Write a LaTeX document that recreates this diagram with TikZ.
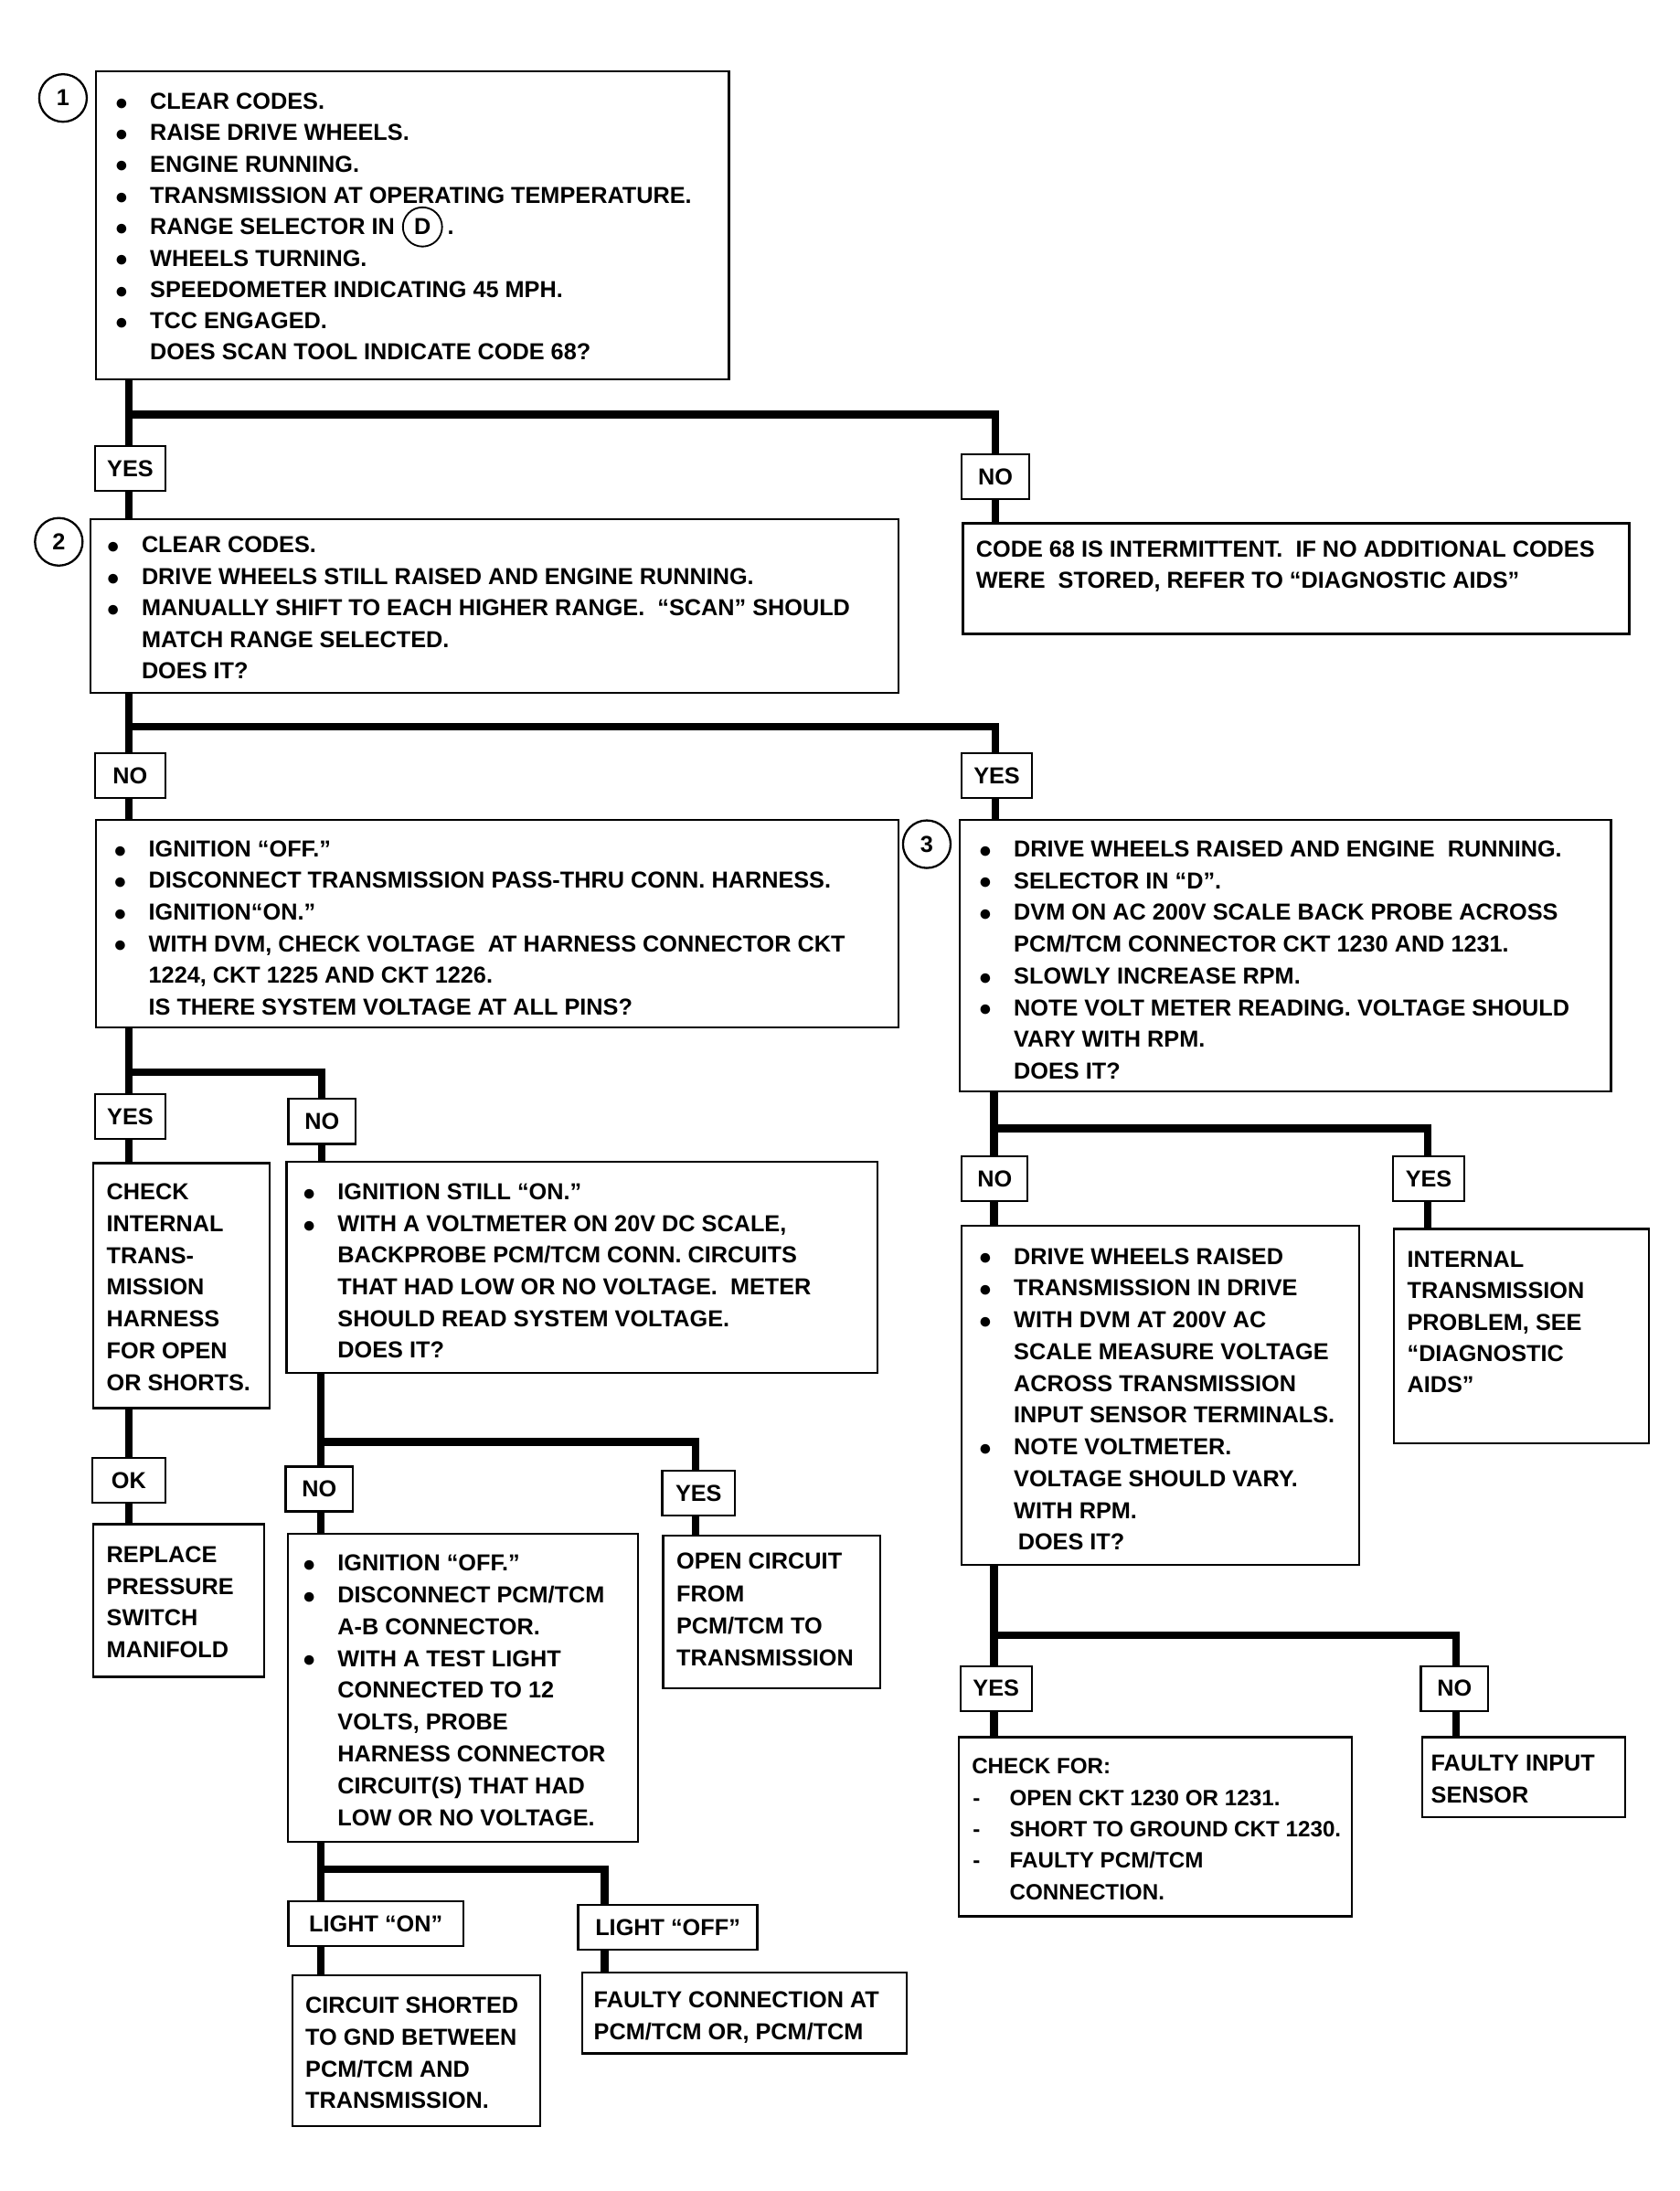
\documentclass[tikz,border=0pt]{standalone}
\usepackage{fontspec}
\setmainfont{Liberation Sans}
\newcommand\bul{\llap{\raisebox{-0.5pt}{\fontsize{16}{16}\selectfont ●}\hspace{15.5pt}}}
\newcommand\dsh{\llap{-\hspace{21pt}}}
\newcommand\putlines[5]{\foreach \ltext [count=\i from 0] in {#5} {\node[txt] (#1-\i) at (#2,{#3+#4*\i}) {\ltext};}}
\begin{document}
\begin{tikzpicture}[x=1pt,y=-1pt,
 box/.style={draw,line width=1.5pt,inner sep=0pt,anchor=north west},
 lab/.style={draw,line width=1.5pt,inner sep=0pt,minimum height=32pt,font=\fontsize{16.5}{20}\selectfont\bfseries},
 txt/.style={inner sep=0pt,anchor=base west,font=\fontsize{16.5}{20}\selectfont\bfseries},
 conn/.style={line width=5.5pt},
 num/.style={draw,circle,line width=1.5pt,minimum size=34pt,inner sep=0pt,font=\fontsize{16.5}{20}\selectfont\bfseries}]
\fill[white] (0,0) rectangle (1200,1565);
\useasboundingbox (0,0) rectangle (1200,1565);
% boxes
\node[box,minimum width=452pt,minimum height=220pt] (b1) at (68,50) {};
\node[box,minimum width=577pt,minimum height=124pt] (b2) at (64,370) {};
\node[box,minimum width=476pt,minimum height=79pt] (bn) at (687,373) {};
\node[box,minimum width=573pt,minimum height=148pt] (b4) at (68,585) {};
\node[box,minimum width=465pt,minimum height=194pt] (b3) at (685,585) {};
\node[box,minimum width=126pt,minimum height=175pt] (bck) at (66,830) {};
\node[box,minimum width=422pt,minimum height=151pt] (b5) at (204,829) {};
\node[box,minimum width=122pt,minimum height=109pt] (brp) at (66,1088) {};
\node[box,minimum width=250pt,minimum height=220pt] (b6) at (205,1095) {};
\node[box,minimum width=155pt,minimum height=109pt] (bop) at (473,1096) {};
\node[box,minimum width=177pt,minimum height=108pt] (bci) at (208,1410) {};
\node[box,minimum width=232pt,minimum height=58pt] (bfc) at (415,1408) {};
\node[box,minimum width=284pt,minimum height=242pt] (b7) at (686,875) {};
\node[box,minimum width=182pt,minimum height=153pt] (bin) at (995,877) {};
\node[box,minimum width=281pt,minimum height=128pt] (bcf) at (684,1240) {};
\node[box,minimum width=145pt,minimum height=57pt] (bfi) at (1015,1240) {};
% step numbers
\node[num] (c1) at (45,70) {1};
\node[num] (c2) at (42,387) {2};
\node[num] (c3) at (662,603) {3};
% labels
\node[lab,minimum width=50pt] (y1) at (93,334.5) {YES};
\node[lab,minimum width=48pt] (n1) at (711,340.5) {NO};
\node[lab,minimum width=50pt] (n2) at (93,554) {NO};
\node[lab,minimum width=50pt] (y2) at (712,554) {YES};
\node[lab,minimum width=50pt] (y3) at (93,797.5) {YES};
\node[lab,minimum width=48pt] (n3) at (230,801) {NO};
\node[lab,minimum width=52pt] (ok) at (92,1057.5) {OK};
\node[lab,minimum width=48pt] (n4) at (228,1063.5) {NO};
\node[lab,minimum width=52pt] (y4) at (499,1066.5) {YES};
\node[lab,minimum width=125pt] (lon) at (268.5,1374) {LIGHT “ON”};
\node[lab,minimum width=128pt] (loff) at (477,1376.5) {LIGHT “OFF”};
\node[lab,minimum width=47pt] (n5) at (710.5,842) {NO};
\node[lab,minimum width=51pt] (y5) at (1020.5,842) {YES};
\node[lab,minimum width=51pt] (y6) at (711.5,1206) {YES};
\node[lab,minimum width=48pt] (n6) at (1039,1206) {NO};
% texts
\putlines{t1}{107}{78}{22.4}{{\bul CLEAR CODES.},{\bul RAISE DRIVE WHEELS.},{\bul ENGINE RUNNING.},{\bul TRANSMISSION AT OPERATING TEMPERATURE.},{\bul RANGE SELECTOR IN},{\bul WHEELS TURNING.},{\bul SPEEDOMETER INDICATING 45 MPH.},{\bul TCC ENGAGED.},{DOES SCAN TOOL INDICATE CODE 68?}}
\node[draw,circle,line width=1.2pt,inner sep=0pt,minimum size=28pt,anchor=west,font=\fontsize{16.5}{20}\selectfont\bfseries] (dcirc) at ([xshift=5pt]t1-4.east) {D};
\node[txt] (dot) at ([xshift=3pt]dcirc.east |- t1-4.base) {.};
\putlines{t2}{101}{395}{22.5}{{\bul CLEAR CODES.},{\bul DRIVE WHEELS STILL RAISED AND ENGINE RUNNING.},{\bul MANUALLY SHIFT TO EACH HIGHER RANGE.\ \ “SCAN” SHOULD},{MATCH RANGE SELECTED.},{DOES IT?}}
\putlines{tn}{697}{398}{22}{{CODE 68 IS INTERMITTENT.\ \ IF NO ADDITIONAL CODES},{WERE\ \ STORED, REFER TO “DIAGNOSTIC AIDS”}}
\putlines{t4}{106}{612}{22.6}{{\bul IGNITION “OFF.”},{\bul DISCONNECT TRANSMISSION PASS-THRU CONN. HARNESS.},{\bul IGNITION“ON.”},{\bul WITH DVM, CHECK VOLTAGE\ \ AT HARNESS CONNECTOR CKT},{1224, CKT 1225 AND CKT 1226.},{IS THERE SYSTEM VOLTAGE AT ALL PINS?}}
\putlines{t3}{724}{612}{22.7}{{\bul DRIVE WHEELS RAISED AND ENGINE\ \ RUNNING.},{\bul SELECTOR IN “D”.},{\bul DVM ON AC 200V SCALE BACK PROBE ACROSS},{PCM/TCM CONNECTOR CKT 1230 AND 1231.},{\bul SLOWLY INCREASE RPM.},{\bul NOTE VOLT METER READING. VOLTAGE SHOULD},{VARY WITH RPM.},{DOES IT?}}
\putlines{tck}{76}{857}{22.7}{{CHECK},{INTERNAL},{TRANS-},{MISSION},{HARNESS},{FOR OPEN},{OR SHORTS.}}
\putlines{t5}{241}{857}{22.6}{{\bul IGNITION STILL “ON.”},{\bul WITH A VOLTMETER ON 20V DC SCALE,},{BACKPROBE PCM/TCM CONN. CIRCUITS},{THAT HAD LOW OR NO VOLTAGE.\ \ METER},{SHOULD READ SYSTEM VOLTAGE.},{DOES IT?}}
\putlines{trp}{76}{1116}{22.7}{{REPLACE},{PRESSURE},{SWITCH},{MANIFOLD}}
\putlines{t6}{241}{1122}{22.75}{{\bul IGNITION “OFF.”},{\bul DISCONNECT PCM/TCM},{A-B CONNECTOR.},{\bul WITH A TEST LIGHT},{CONNECTED TO 12},{VOLTS, PROBE},{HARNESS CONNECTOR},{CIRCUIT(S) THAT HAD},{LOW OR NO VOLTAGE.}}
\putlines{top}{483}{1121}{23}{{OPEN CIRCUIT},{FROM},{PCM/TCM TO},{TRANSMISSION}}
\putlines{tci}{218}{1438}{22.7}{{CIRCUIT SHORTED},{TO GND BETWEEN},{PCM/TCM AND},{TRANSMISSION.}}
\putlines{tfc}{424}{1434}{23}{{FAULTY CONNECTION AT},{PCM/TCM OR, PCM/TCM}}
\putlines{t7}{724}{903}{22.7}{{\bul DRIVE WHEELS RAISED},{\bul TRANSMISSION IN DRIVE},{\bul WITH DVM AT 200V AC},{SCALE MEASURE VOLTAGE},{ACROSS TRANSMISSION},{INPUT SENSOR TERMINALS.},{\bul NOTE VOLTMETER.},{VOLTAGE SHOULD VARY.},{WITH RPM.},{\hspace*{3pt}DOES IT?}}
\putlines{tin}{1005}{905}{22.5}{{INTERNAL},{TRANSMISSION},{PROBLEM, SEE},{“DIAGNOSTIC},{AIDS”}}
\begin{scope}[txt/.append style={font=\fontsize{15.8}{20}\selectfont\bfseries}]
\putlines{tcf}{721}{1267}{22.5}{{\hspace*{-27pt}CHECK FOR:},{\dsh OPEN CKT 1230 OR 1231.},{\dsh SHORT TO GROUND CKT 1230.},{\dsh FAULTY PCM/TCM},{CONNECTION.}}
\end{scope}
\putlines{tfi}{1022}{1265}{23}{{FAULTY INPUT},{SENSOR}}
% junctions
\coordinate (j1) at (92,296); \coordinate (j1r) at (711,296);
\coordinate (j2) at (92,519); \coordinate (j2r) at (711,519);
\coordinate (j3) at (92,766); \coordinate (j3r) at (230,766);
\coordinate (j4) at (229,1030); \coordinate (j4r) at (497,1030);
\coordinate (j5) at (229,1335); \coordinate (j5r) at (432,1335);
\coordinate (j6) at (710,806); \coordinate (j6r) at (1020,806);
\coordinate (j7) at (710,1168); \coordinate (j7r) at (1040,1168);
% connectors
\draw[conn] (b1.south -| j1) -- (y1.north -| j1);
\draw[conn] (j1) -- (j1r) -- (n1.north -| j1r);
\draw[conn] (y1.south -| j1) -- (b2.north -| j1);
\draw[conn] (n1.south -| j1r) -- (bn.north -| j1r);
\draw[conn] (b2.south -| j2) -- (n2.north -| j2);
\draw[conn] (j2) -- (j2r) -- (y2.north -| j2r);
\draw[conn] (n2.south -| j2) -- (b4.north -| j2);
\draw[conn] (y2.south -| j2r) -- (b3.north -| j2r);
\draw[conn] (b4.south -| j3) -- (y3.north -| j3);
\draw[conn] (j3) -- (j3r) -- (n3.north -| j3r);
\draw[conn] (y3.south -| j3) -- (bck.north -| j3);
\draw[conn] (n3.south -| j3r) -- (b5.north -| j3r);
\draw[conn] (bck.south -| j3) -- (ok.north -| j3);
\draw[conn] (ok.south -| j3) -- (brp.north -| j3);
\draw[conn] (b5.south -| j4) -- (n4.north -| j4);
\draw[conn] (j4) -- (j4r) -- (y4.north -| j4r);
\draw[conn] (n4.south -| j4) -- (b6.north -| j4);
\draw[conn] (y4.south -| j4r) -- (bop.north -| j4r);
\draw[conn] (b6.south -| j5) -- (lon.north -| j5);
\draw[conn] (j5) -- (j5r) -- (loff.north -| j5r);
\draw[conn] (lon.south -| j5) -- (bci.north -| j5);
\draw[conn] (loff.south -| j5r) -- (bfc.north -| j5r);
\draw[conn] (b3.south -| j6) -- (n5.north -| j6);
\draw[conn] (j6) -- (j6r) -- (y5.north -| j6r);
\draw[conn] (n5.south -| j6) -- (b7.north -| j6);
\draw[conn] (y5.south -| j6r) -- (bin.north -| j6r);
\draw[conn] (b7.south -| j7) -- (y6.north -| j7);
\draw[conn] (j7) -- (j7r) -- (n6.north -| j7r);
\draw[conn] (y6.south -| j7) -- (bcf.north -| j7);
\draw[conn] (n6.south -| j7r) -- (bfi.north -| j7r);
\end{tikzpicture}
\end{document}
